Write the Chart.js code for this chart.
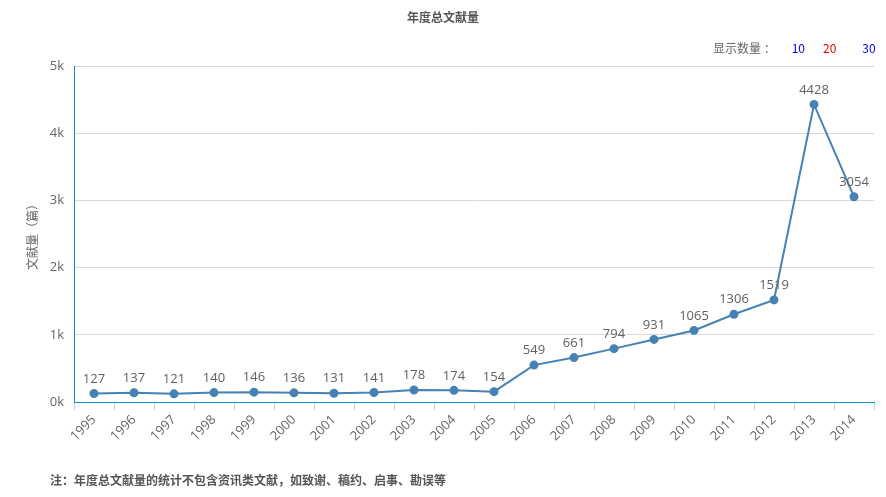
<!DOCTYPE html>
<html>
<head>
<meta charset="utf-8">
<script src="https://cdn.jsdelivr.net/npm/chart.js@4/dist/chart.umd.min.js"></script>
<style>
  body { margin:0; background:#fff; font-family:"Noto Sans CJK SC","Open Sans",sans-serif; }
  #wrap { position:relative; width:886px; height:497px; }
  #c { position:absolute; left:0; top:0; }
  .t { position:absolute; font-size:12px; color:#555; white-space:nowrap; }
  #title { left:0; width:886px; text-align:center; top:8px; font-weight:bold; }
  #show { left:713px; top:39px; color:#666; }
  #show span { display:inline-block; }
  #note { left:50px; top:471px; font-weight:bold; }
</style>
</head>
<body>
<div id="wrap">
  <canvas id="c" width="886" height="497"></canvas>
  <div class="t" id="title">年度总文献量</div>
  <div class="t" id="show">显示数量 ：<span style="color:#0000ee;margin-left:16px">10</span><span style="color:#ee0000;margin-left:18px">20</span><span style="color:#0000ee;margin-left:26px">30</span></div>
  <div class="t" id="note">注：年度总文献量的统计不包含资讯类文献，如致谢、稿约、启事、勘误等</div>
</div>
<script>
const years = ['1995','1996','1997','1998','1999','2000','2001','2002','2003','2004','2005','2006','2007','2008','2009','2010','2011','2012','2013','2014'];
const counts = [127,137,121,140,146,136,131,141,178,174,154,549,661,794,931,1065,1306,1519,4428,3054];

const pointLabels = {
  id: 'pointLabels',
  afterDatasetsDraw(chart) {
    const ctx = chart.ctx;
    const meta = chart.getDatasetMeta(0);
    ctx.save();
    ctx.font = '13px "Open Sans", sans-serif';
    ctx.fillStyle = '#606060';
    ctx.textAlign = 'center';
    ctx.textBaseline = 'bottom';
    meta.data.forEach((p, i) => {
      ctx.fillText(String(counts[i]), p.x, p.y - 8);
    });
    ctx.restore();
  }
};

new Chart(document.getElementById('c'), {
  type: 'line',
  data: {
    labels: years,
    datasets: [{
      data: counts,
      borderColor: '#4682b4',
      backgroundColor: '#4682b4',
      borderWidth: 2,
      pointRadius: 3.5,
      pointHoverRadius: 3.5,
      tension: 0,
      fill: false
    }]
  },
  options: {
    responsive: false,
    animation: false,
    layout: { padding: { top: 66, right: 12, left: 0, bottom: 0 } },
    plugins: { legend: { display: false }, tooltip: { enabled: false } },
    scales: {
      x: {
        offset: true,
        grid: { offset: true, drawOnChartArea: false, drawTicks: true, tickLength: 8, color: '#c0d0e0' },
        border: { color: '#1a8fd0', width: 1 },
        ticks: { color: '#666', font: { size: 13, family: '"Open Sans", sans-serif' }, minRotation: 45, maxRotation: 45, autoSkip: false, padding: 2 },
        afterFit(s) { s.height = 95; }
      },
      y: {
        min: 0, max: 5000,
        ticks: { stepSize: 1000, color: '#666', font: { size: 13, family: '"Open Sans", sans-serif' }, padding: 10, callback: v => (v / 1000) + 'k' },
        grid: { color: '#d8d8d8', drawTicks: false },
        border: { color: '#1a8fd0', width: 1 },
        title: { display: true, text: '文献量（篇）', color: '#666', padding: { top: 25, bottom: 4 }, font: { size: 12, family: '"Noto Sans CJK SC", sans-serif' } },
        afterFit(s) { s.width = 74; }
      }
    }
  },
  plugins: [pointLabels]
});
</script>
</body>
</html>
